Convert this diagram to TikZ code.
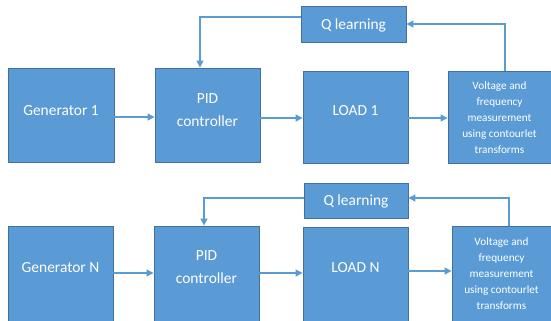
\documentclass[tikz,border=0pt]{standalone}
\usepackage{fontspec}
\setmainfont{Carlito}
\usetikzlibrary{arrows.meta}
\definecolor{boxfill}{HTML}{5B9BD5}
\definecolor{boxline}{HTML}{41719C}
\definecolor{wire}{HTML}{5B9BD5}
\begin{document}
\begin{tikzpicture}[x=1bp,y=-1bp,
  blk/.style={draw=boxline, line width=0.9bp, fill=boxfill, inner sep=0pt},
  lbl/.style={text=white, font=\fontsize{15.5}{23}\selectfont, align=center, inner sep=0pt},
  smalllbl/.style={text=white, font=\fontsize{11.3}{16}\selectfont, align=center, inner sep=0pt},
  wirearrow/.style={draw=wire, line width=1.2bp, -{Triangle[length=7bp,width=7bp]}}]
\useasboundingbox (0,0) rectangle (551,320);
\clip (0,0) rectangle (551,320);

% ---------- first generator chain ----------
\node[blk, minimum width=106bp, minimum height=94bp] (gen1) at (61,115) {};
\node[lbl] (gen1t) at (61,110.5) {Generator 1};
\node[blk, minimum width=105bp, minimum height=94bp] (pid1) at (207.5,115) {};
\node[lbl] (pid1t) at (207.5,110.5) {PID\\controller};
\node[blk, minimum width=105bp, minimum height=36bp] (q1) at (353.5,24) {};
\node[lbl] (q1t) at (353.5,25) {Q learning};
\node[blk, minimum width=105bp, minimum height=92bp] (load1) at (355.5,117) {};
\node[lbl] (load1t) at (355.5,110.5) {LOAD 1};
\node[blk, minimum width=103bp, minimum height=92bp] (vf1) at (499.5,117) {};
\node[smalllbl] (vf1t) at (499.5,117.5) {Voltage and\\frequency\\measurement\\using contourlet\\transforms};

\draw[wirearrow] ([yshift=-2bp]gen1.east) -- ([yshift=-2bp]pid1.west);
\draw[wirearrow] ([yshift=-3bp]pid1.east) -- ([yshift=-3bp]pid1.east -| load1.west);
\draw[wirearrow] ([yshift=-1bp]load1.east) -- ([yshift=-1bp]vf1.west);
\draw[wirearrow] ([yshift=7bp]q1.west) -| ([xshift=-7.5bp]pid1.north);
\draw[wirearrow] ([xshift=5.5bp]vf1.north) |- (q1.east);

% ---------- N-th generator chain ----------
\node[blk, minimum width=105bp, minimum height=96bp] (genN) at (60.5,274) {};
\node[lbl] (genNt) at (60.5,268) {Generator N};
\node[blk, minimum width=105bp, minimum height=96bp] (pidN) at (206.5,274) {};
\node[lbl] (pidNt) at (206.5,267) {PID\\controller};
\node[blk, minimum width=104bp, minimum height=35bp] (qN) at (356,200.5) {};
\node[lbl] (qNt) at (356,201) {Q learning};
\node[blk, minimum width=105bp, minimum height=95bp] (loadN) at (355.5,274.5) {};
\node[lbl] (loadNt) at (355.5,268) {LOAD N};
\node[blk, minimum width=99bp, minimum height=96bp] (vfN) at (501.5,274) {};
\node[smalllbl] (vfNt) at (501.5,273.5) {Voltage and\\frequency\\measurement\\using contourlet\\transforms};

\draw[wirearrow] ([yshift=1bp]genN.east) -- ([yshift=1bp]pidN.west);
\draw[wirearrow] ([yshift=1bp]pidN.east) -- ([yshift=1bp]pidN.east -| loadN.west);
\draw[wirearrow] ([yshift=3.5bp]loadN.east) -- ([yshift=3.5bp]loadN.east -| vfN.west);
\draw[wirearrow] ([yshift=2.5bp]qN.west) -| ([xshift=-2.5bp]pidN.north);
\draw[wirearrow] ([xshift=7.5bp]vfN.north) |- ([yshift=2.5bp]qN.east);
\end{tikzpicture}
\end{document}
